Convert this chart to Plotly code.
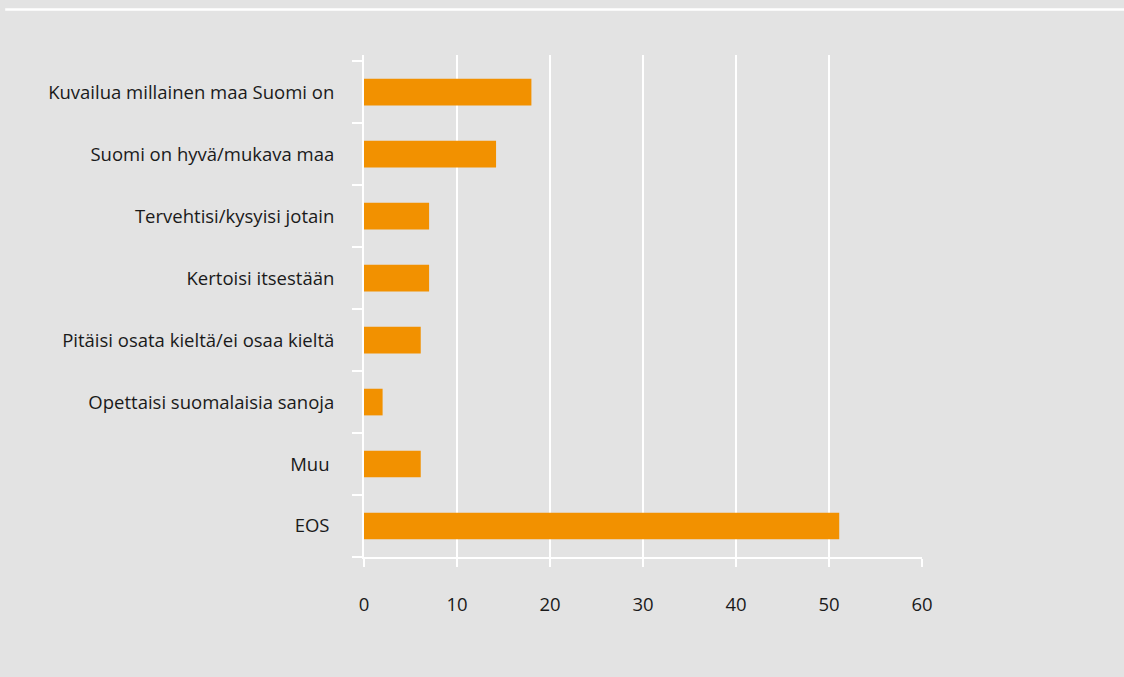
import plotly.graph_objects as go

# answers, in the order shown from top to bottom
categories = [
    'Kuvailua millainen maa Suomi on',
    'Suomi on hyvä/mukava maa',
    'Tervehtisi/kysyisi jotain',
    'Kertoisi itsestään',
    'Pitäisi osata kieltä/ei osaa kieltä',
    'Opettaisi suomalaisia sanoja',
    'Muu\u00a0',
    'EOS\u00a0',
]
shares = [18, 14.2, 7, 7, 6.1, 2, 6.1, 51.1]
x_ticks = [0, 10, 20, 30, 40, 50, 60]

BACKGROUND = '#e3e3e3'
BAR_COLOUR = '#f29100'
FONT = 'Open Sans'
TEXT_COLOUR = '#1a1a1a'

figure = go.Figure()
figure.add_trace(go.Bar(
    x=shares,
    y=categories,
    orientation='h',
    width=0.43,
    marker={'color': BAR_COLOUR, 'line': {'width': 0}},
    hoverinfo='x+y',
))

figure.update_xaxes(
    range=[0, 60],
    tickvals=x_ticks,
    showgrid=True,
    gridcolor='white',
    gridwidth=2,
    zeroline=False,
    showline=True,
    linecolor='white',
    linewidth=2,
    ticks='outside',
    ticklen=8,
    tickwidth=2,
    tickcolor='white',
    ticklabelstandoff=22,
    tickfont={'family': FONT, 'size': 18.5, 'color': TEXT_COLOUR},
)
figure.update_yaxes(
    categoryorder='array',
    categoryarray=categories[::-1],
    range=[-0.5, 7.6],
    showgrid=False,
    zeroline=False,
    showline=True,
    linecolor='white',
    linewidth=2,
    ticks='outside',
    tickson='boundaries',
    ticklen=10,
    tickwidth=2,
    tickcolor='white',
    ticklabelstandoff=24,
    tickfont={'family': FONT, 'size': 18.5, 'color': TEXT_COLOUR},
)

# thin white rule near the top edge of the panel
figure.add_shape(
    type='line',
    xref='paper', yref='paper',
    x0=-0.643, x1=1.5, y0=1.0906, y1=1.0906,
    line={'color': 'white', 'width': 2.5},
)

figure.update_layout(
    width=1124,
    height=677,
    margin={'l': 364, 'r': 202, 't': 55, 'b': 120},
    paper_bgcolor=BACKGROUND,
    plot_bgcolor=BACKGROUND,
    showlegend=False,
)

# drop the page margin so the grey panel fills the window
figure.write_html(
    'out.html',
    config={'displayModeBar': False},
    post_script=(
        "document.body.style.margin='0';"
        f"document.body.style.background='{BACKGROUND}';"
    ),
)
